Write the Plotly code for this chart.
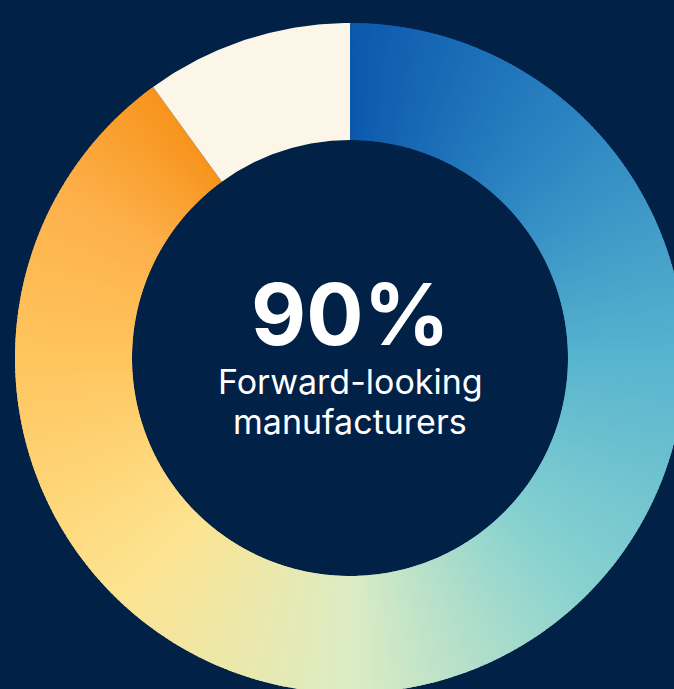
import numpy as np
import plotly.graph_objects as go

# ---- data ----
labels = ["Forward-looking manufacturers", "Other"]
values = [90, 10]
headline = "90%"
caption_lines = ["Forward-looking", "manufacturers"]

# ---- style ----
BG = "#012147"
CREAM = "#fcf6e8"
W, H = 674, 689
CX, CY = 350, 358
R_OUT, R_IN = 335, 218
GRAD_STEPS = 400
# gradient colour stops along the main segment (fraction of segment, colour)
stops = [(0.0, "#0b58ad"), (0.139, "#2e86c2"), (0.278, "#58b4cf"),
         (0.417, "#88d2d0"), (0.556, "#dcecc4"), (0.694, "#fde38f"),
         (0.833, "#ffc55e"), (0.926, "#fdb04a"), (1.0, "#f7941d")]


def hex2rgb(h):
    h = h.lstrip("#")
    return np.array([int(h[i:i + 2], 16) for i in (0, 2, 4)], float)


def grad_color(t):
    for (t0, c0), (t1, c1) in zip(stops[:-1], stops[1:]):
        if t <= t1:
            f = (t - t0) / (t1 - t0) if t1 > t0 else 0
            c = hex2rgb(c0) * (1 - f) + hex2rgb(c1) * f
            return "rgb(%d,%d,%d)" % tuple(np.round(c))
    c = hex2rgb(stops[-1][1])
    return "rgb(%d,%d,%d)" % tuple(c)


def wedge(a0, a1):
    n = max(4, int(abs(a1 - a0) / 0.5) + 2)
    th = np.radians(np.linspace(a0, a1, n))
    xo = CX + R_OUT * np.sin(th)
    yo = CY - R_OUT * np.cos(th)
    xi = CX + R_IN * np.sin(th[::-1])
    yi = CY - R_IN * np.cos(th[::-1])
    return np.concatenate([xo, xi, xo[:1]]), np.concatenate([yo, yi, yo[:1]])


fig = go.Figure()
total = float(sum(values))
start = 0.0
for i, (lab, v) in enumerate(zip(labels, values)):
    span = 360.0 * v / total
    if i == 0:
        step = span / GRAD_STEPS
        for k in range(GRAD_STEPS):
            a0 = start + step * k
            a1 = start + step * (k + 1)
            if k < GRAD_STEPS - 1:
                a1 += step * 0.8  # small overlap hides anti-alias seams
            col = grad_color((k + 0.5) / GRAD_STEPS)
            x, y = wedge(a0, a1)
            fig.add_trace(go.Scatter(x=x, y=y, mode="lines", fill="toself",
                                     fillcolor=col, line=dict(width=0),
                                     hoverinfo="skip", showlegend=False, name=lab))
    else:
        x, y = wedge(start, start + span)
        fig.add_trace(go.Scatter(x=x, y=y, mode="lines", fill="toself",
                                 fillcolor=CREAM, line=dict(width=0),
                                 hoverinfo="skip", showlegend=False, name=lab))
    start += span

fig.add_annotation(x=CX, y=314, xref="x", yref="y", text="<b>%s</b>" % headline,
                   showarrow=False, font=dict(family="Inter", size=85, color="white"))
fig.add_annotation(x=CX, y=381, xref="x", yref="y", text=caption_lines[0],
                   showarrow=False, font=dict(family="Inter", size=34, color="white"))
fig.add_annotation(x=CX, y=421, xref="x", yref="y", text=caption_lines[1],
                   showarrow=False, font=dict(family="Inter", size=34, color="white"))

fig.update_layout(
    width=W, height=H,
    margin=dict(l=0, r=0, t=0, b=0),
    paper_bgcolor=BG, plot_bgcolor=BG,
    xaxis=dict(range=[0, W], visible=False, fixedrange=True),
    yaxis=dict(range=[H, 0], visible=False, fixedrange=True),
    showlegend=False,
)
fig.write_html(
    "out.html",
    config={"displayModeBar": False},
    post_script="document.body.style.margin='0';document.body.style.overflow='hidden';"
                "document.body.style.background='%s';" % BG,
)
